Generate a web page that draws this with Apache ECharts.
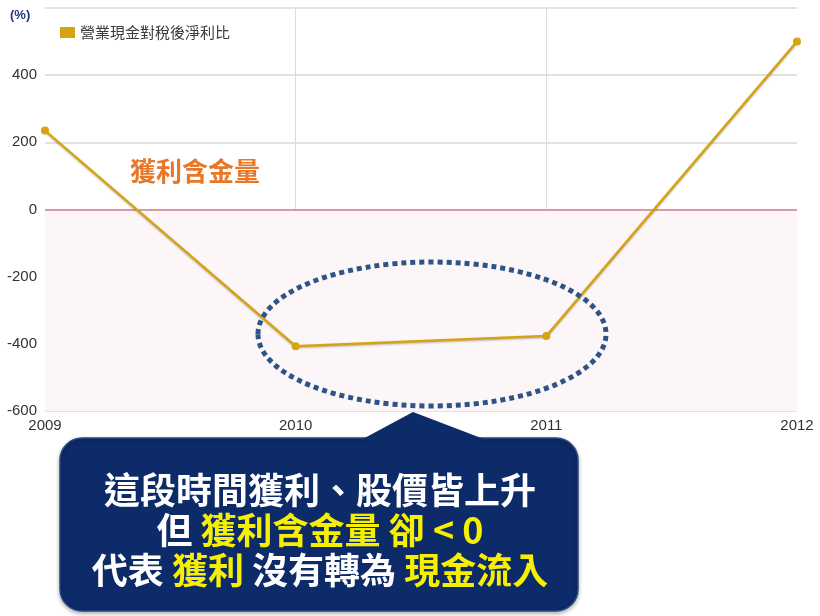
<!DOCTYPE html>
<html><head><meta charset="utf-8">
<script src="https://cdn.jsdelivr.net/npm/echarts@6/dist/echarts.min.js"></script>
<style>html,body{margin:0;padding:0;background:#fff}#c{width:820px;height:616px}</style>
</head><body><div id="c"></div>
<script>
var years = ['2009', '2010', '2011', '2012'];
var ratioValues = [235, -407, -377, 500];
var yTicks = [-600, -400, -200, 0, 200, 400, 600];
var seriesName = '營業現金對稅後淨利比';

var chart = echarts.init(document.getElementById('c'));
var lineColor = '#d6a313';
var navy = '#0d2a69';
var font = '"Noto Sans CJK TC", "Noto Sans", sans-serif';
chart.setOption({
  animation: false,
  grid: { left: 45, right: 23, top: 8, bottom: 205 },
  legend: {
    left: 55, top: 20, itemWidth: 15, itemHeight: 11, itemGap: 8,
    icon: 'rect',
    textStyle: { color: '#3a3a3a', fontSize: 15, fontFamily: font },
    data: [seriesName]
  },
  xAxis: {
    type: 'category', data: years, boundaryGap: false,
    axisLine: { show: false }, axisTick: { show: false },
    axisLabel: { color: '#333', fontSize: 15, fontFamily: 'Liberation Sans, Arial', margin: 7 },
    splitLine: { show: true, showMinLine: false, showMaxLine: false, lineStyle: { color: '#dcdcdc', width: 1 } }
  },
  yAxis: {
    type: 'value', min: yTicks[0], max: yTicks[yTicks.length - 1], interval: 200,
    axisLine: { show: false }, axisTick: { show: false },
    axisLabel: {
      color: '#333', fontSize: 15, fontFamily: 'Liberation Sans, Arial', margin: 8,
      formatter: function (v) { return v === 600 ? '' : String(v); }
    },
    splitLine: { lineStyle: { color: '#d8d8d8', width: 1.5 } }
  },
  graphic: [
    { type: 'text', left: 10, top: 9, style: { text: '(%)', fill: '#1f3b78', font: 'bold 13px "Liberation Sans", Arial' } },
    { type: 'text', x: 130, y: 158, style: { text: '獲利含金量', fill: '#e8772a', font: 'bold 26px ' + font } },
    { type: 'ellipse', shape: { cx: 432, cy: 334, rx: 174, ry: 72 },
      style: { fill: 'none', stroke: '#2e5386', lineWidth: 5, lineDash: [5, 4] }, z: 10 },
    { type: 'rect', shape: { x: 60, y: 438, width: 518, height: 173, r: 22 },
      style: { fill: navy, stroke: '#2a4782', lineWidth: 1.5, shadowBlur: 4, shadowColor: 'rgba(0,0,0,0.3)', shadowOffsetY: 2 }, z: 11 },
    { type: 'polygon', shape: { points: [[413, 412], [359, 441], [489, 441]] },
      style: { fill: navy }, z: 12 },
    { type: 'text', x: 320, y: 530, z: 13,
      style: {
        text: '{w|這段時間獲利、股價皆上升}\n{w|但 }{y|獲利含金量 卻 < 0}\n{w|代表 }{y|獲利}{w| 沒有轉為 }{y|現金流入}',
        align: 'center', verticalAlign: 'middle',
        rich: {
          w: { fill: '#ffffff', fontSize: 36, fontWeight: 'bold', fontFamily: font, lineHeight: 40 },
          y: { fill: '#f6f000', fontSize: 36, fontWeight: 'bold', fontFamily: font, lineHeight: 40 }
        }
      }
    }
  ],
  series: [{
    name: seriesName, type: 'line', data: ratioValues,
    color: lineColor,
    symbol: 'circle', symbolSize: 8,
    lineStyle: { width: 2.5, color: lineColor, shadowColor: 'rgba(0,0,0,0.25)', shadowBlur: 2, shadowOffsetY: 1 },
    itemStyle: { color: lineColor },
    z: 5,
    markLine: {
      silent: true, symbol: 'none', label: { show: false },
      lineStyle: { color: '#d99aa3', width: 2, type: 'solid' },
      data: [{ yAxis: 0 }]
    },
    markArea: {
      silent: true,
      itemStyle: { color: '#fcf6f8' },
      data: [[{ yAxis: yTicks[0] }, { yAxis: 0 }]]
    }
  }]
});
</script></body></html>
